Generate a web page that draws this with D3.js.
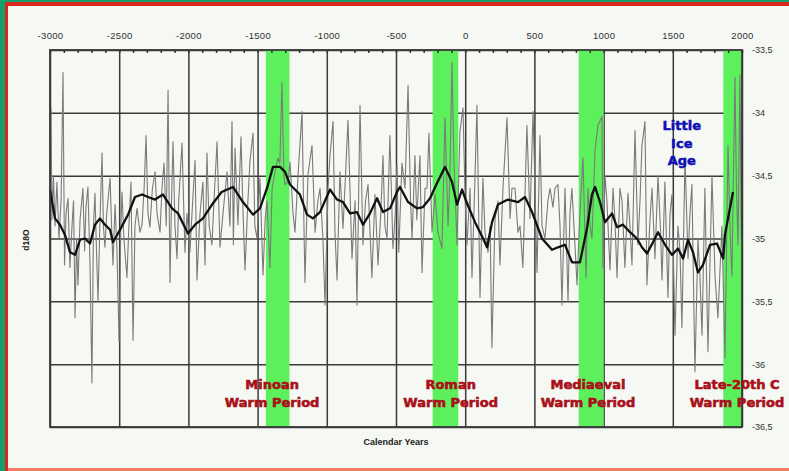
<!DOCTYPE html>
<html><head><meta charset="utf-8">
<script src="https://cdn.jsdelivr.net/npm/d3@7"></script>
<style>html,body{margin:0;padding:0;background:#f5f8f3;overflow:hidden}svg{display:block}</style>
</head><body><svg id="c" width="789" height="471"></svg>
<script>
// ---------- DATA ----------
const xTicks = [-3000,-2500,-2000,-1500,-1000,-500,0,500,1000,1500,2000];
const xTickLabels = ["-3000","-2500","-2000","-1500","-1000","-500","0","500","1000","1500","2000"];
const yTicks = [-33.5,-34,-34.5,-35,-35.5,-36,-36.5];
const yTickLabels = ["-33,5","-34","-34,5","-35","-35,5","-36","-36,5"];

const periodStart = [-1440,-235,820,1865];
const periodEnd   = [-1270,-50,1000,2000];
const periodLine1 = ["Minoan","Roman","Mediaeval","Late-20th C"];
const periodLine2 = ["Warm Period","Warm Period","Warm Period","Warm Period"];
const periodLabelYear = [-1395,-105,887,1964];

const iceAgeLines = ["Little","Ice","Age"];
const iceAgeYear = 1565;

// high-resolution d18O record (grey)
const rawYears = [-3000,-2993,-2986,-2975,-2964,-2950,-2935,-2920,-2906,-2895,-2884,-2870,-2856,-2841,-2830,-2819,-2808,-2798,-2783,-2762,-2750,-2740,-2726,-2711,-2697,-2686,-2675,-2664,-2653,-2640,-2624,-2614,-2603,-2590,-2566,-2555,-2545,-2530,-2516,-2501,-2490,-2480,-2466,-2444,-2430,-2415,-2400,-2386,-2371,-2350,-2335,-2320,-2306,-2292,-2278,-2260,-2241,-2227,-2205,-2191,-2176,-2160,-2147,-2133,-2122,-2111,-2097,-2082,-2070,-2046,-2025,-2010,-1989,-1974,-1952,-1938,-1916,-1895,-1880,-1866,-1850,-1830,-1815,-1793,-1772,-1750,-1721,-1700,-1685,-1675,-1663,-1642,-1620,-1605,-1591,-1570,-1555,-1533,-1520,-1504,-1483,-1461,-1445,-1432,-1411,-1395,-1374,-1353,-1339,-1324,-1310,-1302,-1280,-1266,-1244,-1230,-1208,-1179,-1158,-1136,-1107,-1085,-1064,-1049,-1028,-1013,-991,-977,-955,-941,-926,-905,-883,-865,-847,-818,-796,-782,-760,-739,-720,-702,-674,-652,-630,-610,-594,-580,-565,-544,-522,-505,-493,-480,-457,-435,-413,-395,-384,-363,-350,-327,-312,-290,-276,-262,-240,-218,-197,-168,-146,-124,-110,-96,-81,-59,-38,-16,0,13,35,49,71,85,107,128,143,165,180,193,215,237,251,273,302,324,338,360,381,396,417,446,468,490,504,519,540,555,576,598,613,634,649,670,685,699,721,743,757,771,793,808,829,851,873,887,902,916,938,959,988,995,1010,1024,1046,1068,1082,1097,1118,1133,1154,1176,1190,1205,1227,1248,1263,1277,1299,1313,1335,1350,1371,1393,1410,1422,1443,1465,1480,1494,1516,1537,1552,1566,1588,1610,1624,1638,1660,1682,1696,1711,1732,1754,1783,1805,1826,1855,1877,1899,1913,1927,1949,1960,1971,1985,1995,2000];
const rawValues = [-34.6,-33.96,-34.85,-34.5,-34.9,-34.55,-35.0,-34.7,-33.68,-35.21,-34.8,-34.68,-35.23,-34.9,-34.7,-35.63,-35.0,-35.37,-34.85,-34.6,-35.1,-34.75,-34.59,-35.2,-36.15,-34.9,-34.64,-35.1,-35.5,-34.9,-34.32,-34.9,-35.07,-34.8,-34.52,-34.9,-35.21,-34.73,-35.1,-35.82,-35.0,-34.63,-35.0,-35.31,-34.9,-34.55,-35.81,-34.9,-34.76,-34.95,-34.89,-34.6,-34.18,-34.8,-34.91,-34.6,-34.47,-34.8,-34.95,-34.6,-34.4,-34.9,-33.82,-35.35,-34.7,-34.23,-34.9,-35.16,-34.7,-34.24,-35.11,-34.8,-35.11,-34.8,-34.38,-35.33,-34.8,-34.55,-35.21,-34.32,-34.9,-35.05,-34.7,-34.23,-35.07,-34.8,-34.47,-34.9,-34.07,-35.05,-34.28,-34.89,-34.19,-34.8,-35.25,-34.7,-34.38,-34.16,-34.9,-35.0,-34.52,-35.29,-34.84,-34.7,-35.23,-34.6,-34.47,-34.36,-34.4,-33.76,-34.5,-34.57,-34.55,-34.39,-34.8,-34.95,-34.5,-33.99,-35.35,-34.49,-34.26,-34.95,-34.7,-34.6,-35.0,-35.53,-34.6,-34.34,-34.07,-34.95,-35.33,-34.47,-34.92,-34.5,-34.06,-35.16,-34.7,-35.53,-33.94,-35.05,-34.7,-34.57,-35.31,-34.65,-35.21,-34.8,-34.34,-34.9,-35.0,-34.18,-35.08,-34.8,-34.42,-35.11,-34.4,-34.6,-33.78,-34.7,-35.0,-34.34,-34.85,-34.34,-35.27,-34.6,-34.6,-34.16,-34.95,-34.65,-34.95,-35.08,-34.04,-34.9,-34.5,-33.6,-34.4,-35.05,-34.15,-33.96,-34.7,-35.05,-34.6,-35.31,-34.5,-33.94,-35.47,-34.52,-34.95,-35.11,-34.9,-35.87,-34.85,-34.7,-35.21,-34.6,-34.04,-34.84,-34.6,-34.6,-34.95,-34.9,-35.23,-34.1,-34.84,-33.99,-34.6,-35.27,-34.18,-34.9,-35.0,-34.7,-34.6,-34.75,-34.6,-34.57,-34.9,-35.53,-34.6,-35.5,-34.8,-34.6,-35.05,-35.37,-34.8,-34.36,-35.31,-34.6,-34.9,-35.0,-34.3,-34.1,-34.03,-35.23,-34.5,-34.7,-35.25,-34.6,-34.85,-35.31,-34.6,-34.7,-35.23,-34.64,-34.9,-35.21,-34.14,-35.05,-34.7,-34.26,-34.07,-35.37,-34.85,-34.6,-35.16,-34.5,-34.9,-35.33,-34.55,-35.47,-34.8,-34.65,-35.77,-34.9,-35.1,-35.71,-34.36,-35.16,-34.8,-34.57,-36.06,-35.0,-35.3,-35.77,-34.6,-35.9,-34.5,-35.3,-35.63,-34.9,-35.95,-34.26,-34.9,-35.3,-33.72,-34.6,-35.05,-33.7,-35.0,-34.4];

// smoothed record (black)
const smoothYears = [-3000,-2964,-2928,-2892,-2855,-2819,-2783,-2747,-2711,-2675,-2639,-2603,-2566,-2545,-2494,-2436,-2386,-2335,-2292,-2241,-2184,-2118,-2075,-2003,-1952,-1895,-1829,-1760,-1678,-1606,-1533,-1483,-1432,-1389,-1338,-1302,-1266,-1194,-1143,-1100,-1049,-977,-926,-883,-832,-782,-738,-688,-637,-594,-543,-493,-471,-413,-348,-305,-254,-204,-146,-95,-59,-23,13,71,129,158,194,237,309,382,432,483,555,627,671,721,772,829,880,916,938,974,1010,1061,1097,1140,1191,1241,1277,1314,1357,1393,1444,1494,1538,1574,1610,1646,1682,1718,1769,1819,1864,1877,1899,1928,1935];
const smoothValues = [-34.61,-34.84,-34.89,-34.97,-35.11,-35.13,-35.01,-35.0,-35.04,-34.89,-34.84,-34.89,-34.93,-35.03,-34.93,-34.81,-34.67,-34.65,-34.67,-34.69,-34.65,-34.76,-34.8,-34.96,-34.89,-34.84,-34.73,-34.63,-34.59,-34.71,-34.81,-34.76,-34.6,-34.43,-34.43,-34.47,-34.57,-34.65,-34.81,-34.84,-34.79,-34.61,-34.69,-34.71,-34.8,-34.79,-34.89,-34.8,-34.68,-34.79,-34.76,-34.63,-34.59,-34.71,-34.76,-34.75,-34.68,-34.56,-34.43,-34.55,-34.73,-34.61,-34.72,-34.87,-35.0,-35.07,-34.87,-34.73,-34.69,-34.71,-34.67,-34.79,-35.0,-35.09,-35.07,-35.05,-35.19,-35.19,-34.92,-34.65,-34.59,-34.71,-34.87,-34.8,-34.91,-34.89,-34.95,-35.0,-35.07,-35.12,-35.03,-34.95,-35.05,-35.13,-35.08,-35.16,-35.01,-35.11,-35.27,-35.21,-35.05,-35.04,-35.16,-34.97,-34.84,-34.67,-34.63];

// ---------- CHART ----------
const W = 789, H = 471;
const svg = d3.select("#c");
const L = 50, R = 742, T = 50, B = 427;
const x = d3.scaleLinear().domain([-3000,2000]).range([L,R]);
const y = d3.scaleLinear().domain([-33.5,-36.5]).range([T,B]);

// frame / background
svg.append("rect").attr("x",0).attr("y",0).attr("width",W).attr("height",H).attr("fill","#14a06c");
svg.append("rect").attr("x",5).attr("y",2).attr("width",W-5).attr("height",H-2).attr("fill","#d8281e");
svg.append("rect").attr("x",8).attr("y",6).attr("width",W-8).attr("height",462).attr("fill","#f5f8f3");
svg.append("rect").attr("x",8).attr("y",468).attr("width",W-8).attr("height",3).attr("fill","#f27a66");

// grid
const gridColor = "#3a3a3a";
const gx = svg.append("g").attr("transform",`translate(0,${B})`)
  .call(d3.axisBottom(x).tickValues(xTicks).tickSize(-(B-T)).tickFormat(""));
const gy = svg.append("g").attr("transform",`translate(${L},0)`)
  .call(d3.axisLeft(y).tickValues(yTicks).tickSize(-(R-L)).tickFormat(""));
[gx,gy].forEach(g=>{g.select(".domain").remove();
  g.selectAll("line").attr("stroke",gridColor).attr("stroke-width",1.5);});

// warm-period bands
svg.append("g").selectAll("rect").data(periodStart).join("rect")
  .attr("x",(d)=>x(d)).attr("y",T)
  .attr("width",(d,i)=>x(periodEnd[i])-x(d)).attr("height",B-T)
  .attr("fill","#5df05d");

// grey series
svg.append("clipPath").attr("id","pc").append("rect")
  .attr("x",L).attr("y",T).attr("width",R-L).attr("height",B-T);
const rawPts = rawYears.map((d,i)=>[d,rawValues[i]]);
svg.append("path").attr("clip-path","url(#pc)")
  .attr("d",d3.line().x(d=>x(d[0])).y(d=>y(d[1]))(rawPts))
  .attr("fill","none").attr("stroke","#7a7a7a").attr("stroke-width",1.1)
  .attr("stroke-linejoin","round");

// black smoothed series
const smPts = smoothYears.map((d,i)=>[d,smoothValues[i]]);
svg.append("path")
  .attr("d",d3.line().x(d=>x(d[0])).y(d=>y(d[1]))(smPts))
  .attr("fill","none").attr("stroke","#111").attr("stroke-width",2.3)
  .attr("stroke-linejoin","round");

// plot frame
svg.append("rect").attr("x",L).attr("y",T).attr("width",R-L).attr("height",B-T)
  .attr("fill","none").attr("stroke",gridColor).attr("stroke-width",1.8);

// minor ticks along top
const minor = d3.range(-3000,2001,100);
const mt = svg.append("g").attr("transform",`translate(0,${T})`)
  .call(d3.axisTop(x).tickValues(minor).tickSize(-3).tickFormat(""));
mt.select(".domain").remove();
mt.selectAll("line").attr("stroke","#333").attr("stroke-width",1.5);

// top labels
const ta = svg.append("g").attr("transform",`translate(0,${T})`)
  .call(d3.axisTop(x).tickValues(xTicks).tickSize(0).tickPadding(11)
    .tickFormat((d,i)=>xTickLabels[i]));
ta.select(".domain").remove();
ta.selectAll("text").attr("font-family","Liberation Sans, Arial, sans-serif")
  .attr("font-size",9.5).attr("fill","#333").attr("letter-spacing",0.3);

// right labels
const ra = svg.append("g").attr("transform",`translate(${R},0)`)
  .call(d3.axisRight(y).tickValues(yTicks).tickSize(0).tickPadding(10)
    .tickFormat((d,i)=>yTickLabels[i]));
ra.select(".domain").remove();
ra.selectAll("text").attr("font-family","Liberation Sans, Arial, sans-serif")
  .attr("font-size",9).attr("fill","#333");

// axis titles
svg.append("text").attr("x",(L+R)/2).attr("y",445).attr("text-anchor","middle")
  .attr("font-family","Liberation Sans, Arial, sans-serif").attr("font-weight","bold")
  .attr("font-size",9).attr("fill","#222").text("Calendar Years");
svg.append("text").attr("transform","translate(29,240) rotate(-90)").attr("text-anchor","middle")
  .attr("font-family","Liberation Sans, Arial, sans-serif").attr("font-weight","bold")
  .attr("font-size",8.5).attr("fill","#222").text("d18O");

// period annotations
const ann = svg.append("g").attr("font-family","DejaVu Sans, sans-serif")
  .attr("font-weight","bold").attr("font-size",13).attr("fill","#a8101a")
  .attr("stroke","#a8101a").attr("stroke-width",0.6).attr("text-anchor","middle");
periodLabelYear.forEach((yr,i)=>{
  ann.append("text").attr("x",x(yr)).attr("y",389).text(periodLine1[i]);
  ann.append("text").attr("x",x(yr)).attr("y",407).text(periodLine2[i]);
});

// Little Ice Age
const lia = svg.append("g").attr("font-family","DejaVu Sans, sans-serif")
  .attr("font-weight","bold").attr("font-size",13).attr("fill","#1010b4")
  .attr("stroke","#1010b4").attr("stroke-width",0.5).attr("text-anchor","middle");
iceAgeLines.forEach((t,i)=>{
  lia.append("text").attr("x",x(iceAgeYear)).attr("y",130+i*17.5).text(t);
});
</script>
</body></html>
